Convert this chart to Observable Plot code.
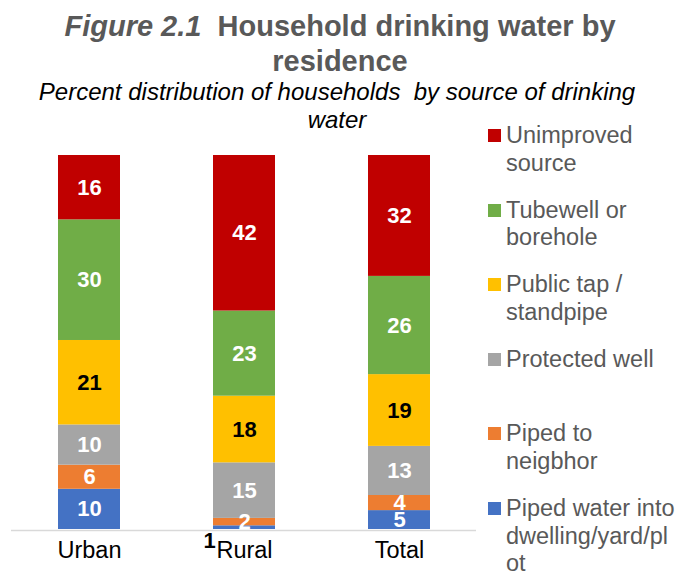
<!DOCTYPE html>
<html>
<head>
<meta charset="utf-8">
<script src="https://cdn.jsdelivr.net/npm/d3@7"></script>
<script src="https://cdn.jsdelivr.net/npm/@observablehq/plot@0.6"></script>
<style>
  html, body { margin: 0; padding: 0; background: #fff; }
  #wrap { position: relative; width: 680px; height: 572px; overflow: hidden; font-family: "Liberation Sans", Arial, sans-serif; }
  #chart { position: absolute; left: 0; top: 0; }
  .title { position: absolute; left: 0; width: 680px; text-align: center; color: #595959; font-weight: bold; font-size: 29px; line-height: 35px; top: 8.5px; white-space: nowrap; }
  .subtitle { position: absolute; left: 0; width: 674px; text-align: center; color: #000; font-style: italic; font-size: 24px; line-height: 28px; top: 77.7px; white-space: nowrap; }
  .leg { position: absolute; left: 488px; font-size: 23.5px; line-height: 27.5px; color: #595959; white-space: nowrap; }
  .leg .sw { position: absolute; left: 0; top: 7px; width: 13px; height: 13px; }
  .leg .tx { position: absolute; left: 18px; top: 0; }
</style>
</head>
<body>
<div id="wrap">
  <div id="chart"></div>
  <div class="title"><i>Figure 2.1</i>&nbsp; Household drinking water by<br>residence</div>
  <div class="subtitle">Percent distribution of households&nbsp; by source of drinking<br>water</div>
  <div id="legend"></div>
</div>
<script>
const residence = ["Urban", "Rural", "Total"];
const sources = [
  "Piped water into dwelling/yard/plot",
  "Piped to neigbhor",
  "Protected well",
  "Public tap / standpipe",
  "Tubewell or borehole",
  "Unimproved source"
];
const legendLabels = [
  ["Piped water into", "dwelling/yard/pl", "ot"],
  ["Piped to", "neigbhor"],
  ["Protected well"],
  ["Public tap /", "standpipe"],
  ["Tubewell or", "borehole"],
  ["Unimproved", "source"]
];
const colors = ["#4472C4", "#ED7D31", "#A5A5A5", "#FFC000", "#70AD47", "#C00000"];
const urban = [10, 6, 10, 21, 30, 16];
const rural = [1, 2, 15, 18, 23, 42];
const total = [5, 4, 13, 19, 26, 32];

const series = [urban, rural, total];
const rows = residence.flatMap((r, i) =>
  sources.map((s, j) => ({residence: r, source: s, value: series[i][j], idx: j}))
);

const isOutside = d => d.residence === "Rural" && d.idx === 0;
const stackBase = {x: "residence", y: "value", z: "source", offset: "normalize", order: null};

const chart = Plot.plot({
  width: 680,
  height: 572,
  marginLeft: 11,
  marginRight: 204,
  marginTop: 155,
  marginBottom: 43,
  style: {fontFamily: "'Liberation Sans', Arial, sans-serif", background: "transparent"},
  x: {domain: residence, paddingInner: 0.6, paddingOuter: 0.3, axis: null},
  y: {axis: null},
  color: {domain: sources, range: colors},
  marks: [
    Plot.ruleY([0], {stroke: "#d9d9d9", strokeWidth: 1.5, dy: 1}),
    Plot.barY(rows, Plot.stackY({...stackBase, fill: "source"})),
    Plot.text(rows, Plot.stackY({...stackBase,
      text: d => (d.idx !== 3 && !isOutside(d)) ? String(d.value) : null,
      fill: "white", fontWeight: "bold", fontSize: 22})),
    Plot.text(rows, Plot.stackY({...stackBase,
      text: d => d.idx === 3 ? String(d.value) : null,
      fill: "black", fontWeight: "bold", fontSize: 22})),
    Plot.text(rows, Plot.stackY({...stackBase,
      text: d => isOutside(d) ? String(d.value) : null,
      fill: "black", fontWeight: "bold", fontSize: 22, dx: -35, dy: 13})),
    Plot.text(residence, {x: d => d, frameAnchor: "bottom", dy: 28.5, fontSize: 23.5, fill: "black"})
  ]
});
document.getElementById("chart").appendChild(chart);

const legend = document.getElementById("legend");
const order = d3.range(sources.length).reverse();
order.forEach((j, k) => {
  const item = document.createElement("div");
  item.className = "leg";
  item.style.top = (122 + k * 74.6) + "px";
  const sw = document.createElement("div");
  sw.className = "sw";
  sw.style.background = colors[j];
  const tx = document.createElement("div");
  tx.className = "tx";
  tx.innerHTML = legendLabels[j].join("<br>");
  item.appendChild(sw);
  item.appendChild(tx);
  legend.appendChild(item);
});
</script>
</body>
</html>
